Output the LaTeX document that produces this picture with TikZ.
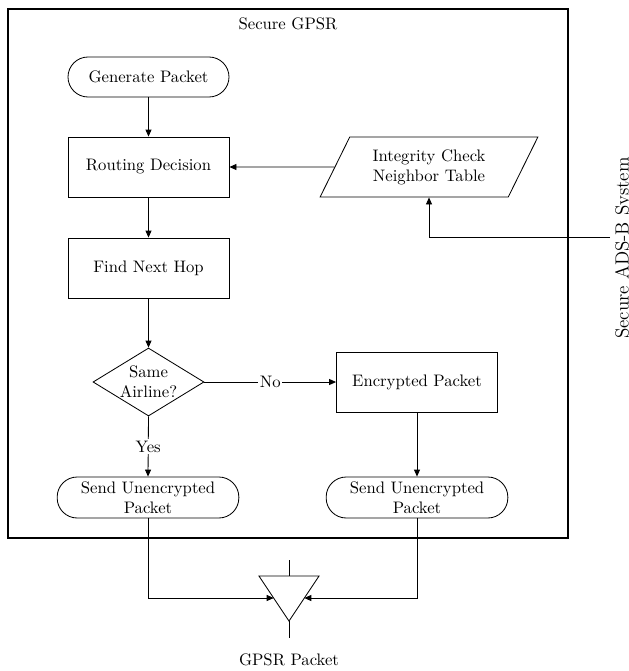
\documentclass[tikz,border=0pt]{standalone}
\usetikzlibrary{shapes.geometric,shapes.misc,arrows.meta}
\begin{document}
\begin{tikzpicture}[x=0.6pt,y=-0.6pt,
  every node/.style={font=\normalsize},
  arr/.style={-{Triangle[length=4.2pt,width=3.6pt]}, line width=0.5pt},
  ln/.style={line width=0.5pt},
  procbox/.style={draw, line width=0.5pt, rectangle, minimum width=96.6pt, minimum height=36pt, align=center},
  pillbox/.style={draw, line width=0.5pt, rectangle, rounded corners=12pt, minimum width=109pt, minimum height=24.6pt, inner sep=1pt, align=center},
  decbox/.style={draw, line width=0.5pt, diamond, aspect=1.6, inner sep=0pt, minimum width=66.6pt, minimum height=40.8pt, align=center},
  iobox/.style={draw, line width=0.5pt, trapezium, trapezium left angle=63.4, trapezium right angle=116.6, trapezium stretches=true, minimum width=130.8pt, minimum height=36pt, align=center},
  lbl/.style={fill=white, inner sep=1pt}
]
\useasboundingbox (0,0) rectangle (629,671);
% frame
\draw[line width=1.1pt] (8,9) rectangle (568,538);
\node (title) at (288,24) {Secure GPSR};

\node[pillbox, minimum width=96.6pt, minimum height=24pt] (gp) at (148.5,77) {Generate Packet};
\node[procbox] (rd) at (148.5,167) {Routing Decision};
\node[procbox] (fnh) at (148.5,268) {Find Next Hop};
\node[decbox] (dia) at (148.5,382) {Same\\Airline?};
\node[procbox] (ep) at (417,382) {Encrypted Packet};
\node[pillbox] (su1) at (148,497.5) {Send Unencrypted\\Packet};
\node[pillbox] (su2) at (417,497.5) {Send Unencrypted\\Packet};
\node[iobox] (ic) at (429,167) {Integrity Check\\Neighbor Table};

\node[rotate=90, anchor=base, inner sep=0pt, font=\fontsize{11.4pt}{14pt}\selectfont] (ads) at (628.5,248) {Secure ADS-B System};
\coordinate (adsin) at (610,237);

% triangle (combiner)
\coordinate (ta) at (259,576);
\coordinate (tb) at (319,576);
\coordinate (tc) at (289,621);
\coordinate (ttop) at (289,560);
\coordinate (tbot) at (289,638);
\coordinate (tl) at (273.7,598);
\coordinate (tr) at (304.3,598);
\draw[ln] (ta) -- (tb) -- (tc) -- cycle;
\draw[ln] (ttop) -- (289,576);
\draw[ln] (tc) -- (tbot);
\node (gpsr) at (289,660) {GPSR Packet};

% connectors
\draw[arr] (gp.south) -- (rd.north);
\draw[arr] (rd.south) -- (fnh.north);
\draw[arr] (fnh.south) -- (dia.north);
\draw[arr] (dia.east) -- node[lbl] {No} (ep.west);
\draw[arr] (dia.south) -- node[lbl] {Yes} (su1.north);
\draw[arr] (ep.south) -- (su2.north);
\draw[arr] (ic.west) -- (rd.east);
\draw[arr] (adsin) -| (ic.south);
\draw[arr] (su1.south) |- (tl);
\draw[arr] (su2.south) |- (tr);
\end{tikzpicture}
\end{document}
